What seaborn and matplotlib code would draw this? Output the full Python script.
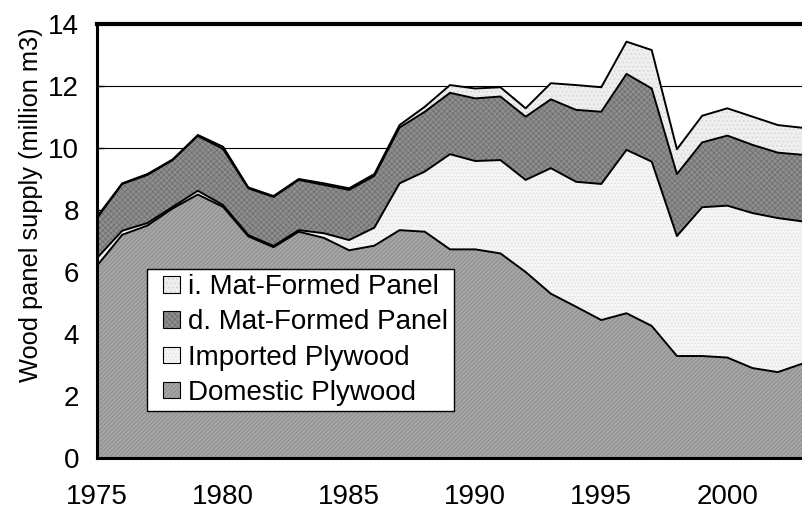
import numpy as np
import pandas as pd
import matplotlib
matplotlib.use("Agg")
import matplotlib.pyplot as plt
import seaborn as sns
from matplotlib.patches import Patch, Rectangle
from matplotlib.legend_handler import HandlerBase

# supply by year (million m3)
years = list(range(1975, 2004))
domestic_plywood = [6.20, 7.20, 7.50, 8.05, 8.50, 8.10, 7.15, 6.80, 7.30, 7.10,
                    6.70, 6.85, 7.35, 7.30, 6.73, 6.73, 6.60, 6.00, 5.30, 4.88,
                    4.45, 4.67, 4.26, 3.29, 3.29, 3.24, 2.90, 2.77, 3.05]
imported_plywood = [0.25, 0.13, 0.08, 0.05, 0.12, 0.06, 0.04, 0.04, 0.05, 0.15,
                    0.33, 0.58, 1.51, 1.94, 3.07, 2.85, 3.01, 2.97, 4.05, 4.03,
                    4.39, 5.27, 5.30, 3.87, 4.80, 4.90, 5.00, 4.97, 4.58]
d_mat_panel = [1.29, 1.51, 1.55, 1.51, 1.77, 1.81, 1.51, 1.58, 1.62, 1.56,
               1.62, 1.67, 1.80, 1.93, 1.98, 2.02, 2.05, 2.04, 2.22, 2.32,
               2.33, 2.45, 2.36, 2.00, 2.09, 2.26, 2.20, 2.11, 2.15]
i_mat_panel = [0.04, 0.02, 0.03, 0.02, 0.03, 0.07, 0.03, 0.03, 0.03, 0.05,
               0.05, 0.06, 0.08, 0.16, 0.25, 0.32, 0.30, 0.27, 0.52, 0.80,
               0.79, 1.04, 1.24, 0.80, 0.86, 0.88, 0.91, 0.89, 0.87]

layer_names = ["Domestic Plywood", "Imported Plywood",
               "d. Mat-Formed Panel", "i. Mat-Formed Panel"]
layer_values = [domestic_plywood, imported_plywood, d_mat_panel, i_mat_panel]

sns.set_theme(style="white")
plt.rcParams["font.family"] = ["Liberation Sans", "DejaVu Sans"]
plt.rcParams["hatch.linewidth"] = 0.5
plt.rcParams["text.color"] = "black"
plt.rcParams["axes.labelcolor"] = "black"
plt.rcParams["xtick.color"] = "black"
plt.rcParams["ytick.color"] = "black"

df = pd.DataFrame({"Year": years})
cum = np.zeros(len(years))
bounds = []
for name, vals in zip(layer_names, layer_values):
    lower = cum.copy()
    cum = cum + np.array(vals)
    bounds.append((name, lower, cum.copy()))
    df[name] = cum

# edgecolor doubles as the hatch colour
styles = {
    "Domestic Plywood": dict(facecolor="#a6a6a6", edgecolor="#848484", hatch="////////"),
    "Imported Plywood": dict(facecolor="#f5f5f5", edgecolor="#dcdcdc", hatch="....."),
    "d. Mat-Formed Panel": dict(facecolor="#8e8e8e", edgecolor="#6c6c6c", hatch="xxxxxx"),
    "i. Mat-Formed Panel": dict(facecolor="#eeeeee", edgecolor="#d2d2d2", hatch="...."),
}


class SquareHandler(HandlerBase):
    # small square swatch at the right end of the handle box, black border
    def create_artists(self, legend, orig_handle, xdescent, ydescent,
                       width, height, fontsize, trans):
        s = 0.6 * fontsize
        x0 = -xdescent + width - s
        y0 = -ydescent + (height - s) / 2
        fill = Rectangle((x0, y0), s, s, facecolor=orig_handle.get_facecolor(),
                         edgecolor=orig_handle.get_edgecolor(),
                         hatch=orig_handle.get_hatch(), linewidth=0,
                         transform=trans)
        border = Rectangle((x0, y0), s, s, fill=False, edgecolor="black",
                           linewidth=0.8, transform=trans)
        return [fill, border]


fig = plt.figure(figsize=(8.03, 5.17), dpi=100)
ax = fig.add_axes([97 / 803, 59 / 517, 706 / 803, 434 / 517])

ax.set_axisbelow(True)
ax.yaxis.grid(True, color="black", linewidth=0.8)
ax.xaxis.grid(False)

for name, lower, upper in bounds:
    ax.fill_between(df["Year"], lower, upper, linewidth=0, zorder=2, **styles[name])

for name in layer_names:
    sns.lineplot(data=df, x="Year", y=name, ax=ax, color="black",
                 linewidth=1.4, zorder=3)

ax.set_xlim(1975, 1975 + 706 / 25.5)
ax.set_ylim(0, 14)
ax.set_xticks(range(1975, 2005, 5))
ax.set_xticks(range(1975, 2004), minor=True)
ax.set_yticks(range(0, 15, 2))
ax.tick_params(axis="x", which="both", direction="in", length=6, width=1,
               color="black", labelcolor="black", labelsize=20, pad=19, bottom=True)
ax.tick_params(axis="y", direction="in", length=5, width=1, color="black",
               labelcolor="black", labelsize=20, pad=13, left=True)

ax.set_xlabel("")
ax.set_ylabel("Wood panel supply (million m3)", fontsize=18.3, color="black")
ax.yaxis.set_label_coords(-0.077, 0.583)

for side in ["left", "bottom"]:
    ax.spines[side].set_color("black")
    ax.spines[side].set_linewidth(2.2)
ax.spines["top"].set_color("black")
ax.spines["top"].set_linewidth(3)
ax.spines["right"].set_visible(False)

handles = [Patch(label=name, **styles[name]) for name in layer_names[::-1]]
leg = ax.legend(handles=handles, handler_map={Patch: SquareHandler()},
                loc="upper left", bbox_to_anchor=(0.071, 0.436),
                borderaxespad=0, fontsize=20, frameon=True, fancybox=False,
                edgecolor="black", framealpha=1, handlelength=0.98,
                handleheight=0.7, handletextpad=0.29, labelspacing=0.33,
                borderpad=0.2, labelcolor="black")
leg.get_frame().set_linewidth(1.0)

fig.savefig("out.png", dpi=100)
